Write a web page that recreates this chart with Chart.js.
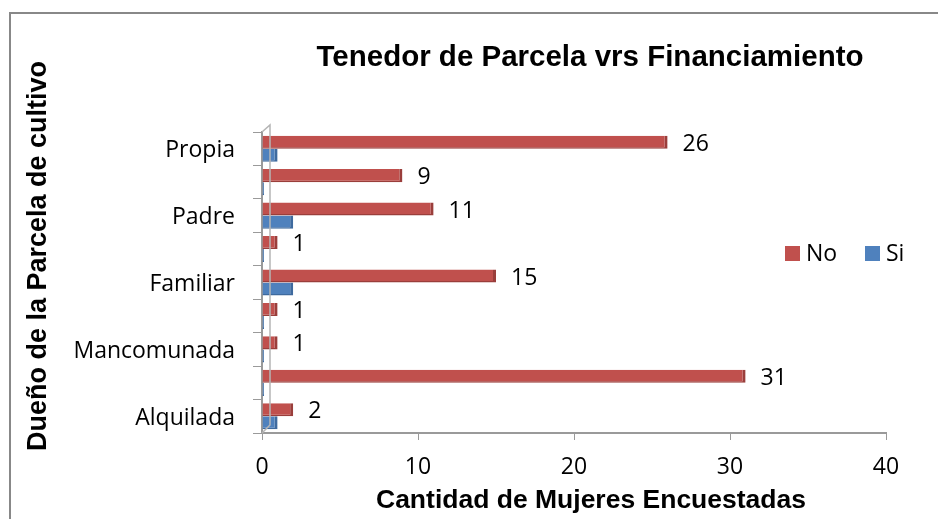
<!DOCTYPE html>
<html>
<head>
<meta charset="utf-8">
<script src="https://cdn.jsdelivr.net/npm/chart.js@4/dist/chart.umd.min.js"></script>
<style>
  html, body { margin: 0; padding: 0; background: #fff; }
  #wrap { position: absolute; left: 0; top: 0; width: 938px; height: 519px; }
</style>
</head>
<body>
<div id="wrap"><canvas id="chart" width="938" height="519"></canvas></div>
<script>
// rows from top to bottom; odd rows have no label in the original
const categories = ['Propia', '', 'Padre', '', 'Familiar', '', 'Mancomunada', '', 'Alquilada'];
const noValues = [26, 9, 11, 1, 15, 1, 1, 31, 2];
const siValues = [1, 0, 2, 0, 2, 0, 0, 0, 1];
const xTicks = [0, 10, 20, 30, 40];

const titleText = 'Tenedor de Parcela vrs Financiamiento';
const xTitle = 'Cantidad de Mujeres Encuestadas';
const yTitle = 'Dueño de la Parcela de cultivo';

const RED = '#C0504D', RED_DARK = '#9A3E3B';
const BLUE = '#4F81BD', BLUE_DARK = '#3E6A9E';
const AXIS = '#9a9a9a';
const LABEL_FONT = '"Open Sans", "Noto Sans", sans-serif';
const BOLD_FONT = '"Liberation Sans", Arial, sans-serif';

// frame, titles, legend and the little 3D wall drawn by hand
const decor = {
  id: 'decor',
  beforeDraw(chart) {
    const ctx = chart.ctx;
    ctx.save();
    ctx.fillStyle = '#fff';
    ctx.fillRect(0, 0, chart.width, chart.height);
    ctx.strokeStyle = '#888';
    ctx.lineWidth = 2;
    ctx.strokeRect(10, 13, 940, 520);
    ctx.restore();
  },
  afterDraw(chart) {
    const ctx = chart.ctx;
    const a = chart.chartArea;
    ctx.save();
    // back wall edge
    ctx.strokeStyle = '#b5b5b5';
    ctx.lineWidth = 1.5;
    ctx.beginPath();
    ctx.moveTo(a.left, a.top);
    ctx.lineTo(a.left + 8, a.top - 7);
    ctx.lineTo(a.left + 8, a.bottom - 8);
    ctx.lineTo(a.left, a.bottom);
    ctx.stroke();

    ctx.fillStyle = '#000';
    ctx.textAlign = 'center';
    ctx.textBaseline = 'middle';
    ctx.font = 'bold 29.5px ' + BOLD_FONT;
    ctx.fillText(titleText, 590, 58);
    ctx.font = 'bold 26.5px ' + BOLD_FONT;
    ctx.fillText(xTitle, 591, 501);
    ctx.save();
    ctx.translate(39, 256);
    ctx.rotate(-Math.PI / 2);
    ctx.font = 'bold 27px ' + BOLD_FONT;
    ctx.fillText(yTitle, 0, 0);
    ctx.restore();

    // legend
    const ds = chart.data.datasets;
    const items = [[785, ds[0]], [865, ds[1]]];
    ctx.font = '23px ' + LABEL_FONT;
    ctx.textAlign = 'left';
    items.forEach(([x, d]) => {
      ctx.fillStyle = d.backgroundColor;
      ctx.fillRect(x, 246, 15, 15);
      ctx.fillStyle = '#000';
      ctx.fillText(d.label, x + 21, 254);
    });
    ctx.restore();
  },
  afterDatasetsDraw(chart) {
    const ctx = chart.ctx;
    const meta = chart.getDatasetMeta(0);
    ctx.save();
    ctx.fillStyle = '#000';
    ctx.font = '23px ' + LABEL_FONT;
    ctx.textAlign = 'left';
    ctx.textBaseline = 'middle';
    meta.data.forEach((bar, i) => {
      ctx.fillText(String(noValues[i]), bar.x + 15, bar.y + 2);
    });
    ctx.restore();
  }
};

new Chart(document.getElementById('chart'), {
  type: 'bar',
  data: {
    labels: categories,
    datasets: [
      {
        label: 'No',
        data: noValues,
        backgroundColor: RED,
        borderColor: RED_DARK,
        borderWidth: { top: 0, left: 0, right: 3, bottom: 1.5 },
        borderSkipped: false,
        categoryPercentage: 0.78,
        barPercentage: 1
      },
      {
        label: 'Si',
        data: siValues,
        backgroundColor: BLUE,
        borderColor: BLUE_DARK,
        borderWidth: { top: 0, left: 0, right: 3, bottom: 1.5 },
        borderSkipped: false,
        minBarLength: 2,
        categoryPercentage: 0.78,
        barPercentage: 1
      }
    ]
  },
  options: {
    indexAxis: 'y',
    responsive: false,
    animation: false,
    layout: { padding: { top: 132, right: 52, left: 0, bottom: 0 } },
    plugins: {
      legend: { display: false },
      title: { display: false },
      tooltip: { enabled: false }
    },
    scales: {
      x: {
        min: 0,
        max: 40,
        afterBuildTicks(scale) { scale.ticks = xTicks.map(v => ({ value: v })); },
        afterFit(scale) { scale.height = 86; },
        grid: { drawOnChartArea: false, drawTicks: true, tickLength: 7, color: AXIS },
        border: { color: AXIS, width: 2 },
        ticks: { color: '#000', font: { family: LABEL_FONT, size: 23 }, padding: 14 }
      },
      y: {
        afterFit(scale) { scale.width = 262; },
        grid: { drawOnChartArea: false, drawTicks: true, tickLength: 9, color: AXIS, offset: true },
        border: { color: AXIS, width: 2 },
        ticks: {
          autoSkip: false,
          color: '#000',
          font: { family: LABEL_FONT, size: 23 },
          padding: 18,
          labelOffset: 2
        }
      }
    }
  },
  plugins: [decor]
});
</script>
</body>
</html>
